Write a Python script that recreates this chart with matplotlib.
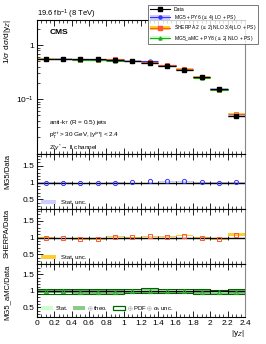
import numpy as np
import matplotlib.pyplot as plt
from matplotlib.patches import Patch, Rectangle
from matplotlib.lines import Line2D
from matplotlib.ticker import MultipleLocator, LogLocator, NullFormatter

# binning in |y_Z|
edges = np.round(np.arange(0, 2.41, 0.2), 2)
centers = 0.5 * (edges[:-1] + edges[1:])
halfw = 0.5 * np.diff(edges)

# normalised cross section (data)
data = [0.567, 0.565, 0.552, 0.548, 0.535, 0.506, 0.478, 0.414, 0.344, 0.259, 0.155, 0.049]
data_err = [0.006, 0.006, 0.006, 0.006, 0.006, 0.005, 0.005, 0.005, 0.004, 0.004, 0.003, 0.002]

# MC / data ratios
r_mg5 = [1.00, 1.00, 0.99, 0.99, 1.00, 1.02, 1.05, 1.04, 1.04, 1.01, 1.00, 1.01]
r_mg5_stat = [0.01] * 12
r_sherpa = [1.00, 0.98, 0.96, 0.96, 1.03, 1.01, 1.04, 1.03, 1.06, 1.00, 0.96, 1.09]
r_sherpa_stat = [0.015, 0.015, 0.02, 0.02, 0.015, 0.015, 0.02, 0.02, 0.02, 0.02, 0.02, 0.04]
r_amc = [0.98, 0.98, 0.97, 0.97, 0.97, 0.99, 1.00, 0.99, 0.99, 0.97, 0.96, 0.97]
r_amc_stat = [0.02] * 12
r_amc_theo = [0.06] * 12
r_amc_pdf = [0.07] * 12

c_mg5, c_mg5_band = '#3333ff', '#ccccff'
c_sh, c_sh_band = '#ff5533', '#ffcc33'
c_amc, c_amc_stat, c_amc_theo, c_amc_pdf = '#22aa22', '#ccffcc', '#88cc88', '#006600'

plt.rcParams['font.family'] = 'Liberation Sans'
plt.rcParams['mathtext.fontset'] = 'custom'
plt.rcParams['mathtext.rm'] = 'Liberation Sans'
plt.rcParams['mathtext.it'] = 'Liberation Sans:italic'

fig = plt.figure(figsize=(2.66, 3.44), dpi=100)
L, W = 0.139, 0.782
ax = fig.add_axes([L, 0.552, W, 0.391])
ax1 = fig.add_axes([L, 0.3915, W, 0.1605], sharex=ax)
ax2 = fig.add_axes([L, 0.2317, W, 0.1598], sharex=ax)
ax3 = fig.add_axes([L, 0.0776, W, 0.1541], sharex=ax)

data = np.array(data)
mc = [(data * np.array(r_mg5), c_mg5, 'o', c_mg5_band),
      (data * np.array(r_sherpa), c_sh, 's', c_sh_band),
      (data * np.array(r_amc), c_amc, '^', c_amc_stat)]
for vals, col, mk, band in mc:
    ax.bar(centers, 0.04 * vals, bottom=vals - 0.02 * vals, width=2 * halfw,
           color=band, lw=0)
    ax.errorbar(centers, vals, xerr=halfw, fmt=mk, color=col, ms=2.5, lw=0.8,
                mfc='none', mew=0.6, capsize=0)
ax.errorbar(centers, data, yerr=data_err, xerr=halfw, fmt='s', color='black',
            ms=2.5, lw=0.9, capsize=0)
ax.set_yscale('log')
ax.set_ylim(0.0095, 3.0)
ax.set_xlim(0, 2.4)
ax.yaxis.set_minor_locator(LogLocator(base=10, subs=np.arange(2, 10), numticks=10))
ax.yaxis.set_minor_formatter(NullFormatter())
ax.set_yticks([0.1, 1])
ax.set_yticklabels(['$10^{-1}$', '1'])
ax.tick_params(labelbottom=False)
ax.set_ylabel(r'1/$\sigma$ d$\sigma$/d|y$_Z$|', fontsize=6, loc='top')
ax.yaxis.set_label_coords(-0.115, 1.0)

fig.text(L, 0.953, r'19.6 fb$^{-1}$ (8 TeV)', fontsize=5.5)
ax.text(0.06, 0.93, 'CMS', transform=ax.transAxes, fontsize=6, fontweight='bold', va='top')
ax.text(0.06, 0.235, r'anti-k$_T$ (R = 0.5) jets', transform=ax.transAxes, fontsize=4.6, va='center')
ax.text(0.06, 0.14, r'p$_T^{jet}$ > 30 GeV, |y$^{jet}$| < 2.4', transform=ax.transAxes, fontsize=4.6, va='center')
ax.text(0.06, 0.045, r'Z/$\gamma^{*}\!\rightarrow$ ll channel', transform=ax.transAxes, fontsize=4.6, va='center')

h_data = Line2D([], [], color='black', marker='s', ms=2.2, lw=0.8)
h_mg5 = (Patch(color=c_mg5_band, lw=0), Line2D([], [], color=c_mg5, marker='o', ms=2.2, lw=0.8))
h_sh = (Patch(color=c_sh_band, lw=0), Line2D([], [], color=c_sh, marker='s', ms=2.2, lw=0.8))
h_amc = (Patch(color=c_amc_stat, lw=0), Line2D([], [], color=c_amc, marker='^', ms=2.2, lw=0.8))
leg = fig.legend([h_data, h_mg5, h_sh, h_amc],
                 ['Data', r'MG5 + PY6 ($\leq$ 4j LO + PS)',
                  r'SHERPA 2 ($\leq$ 2j NLO 3,4j LO + PS)',
                  r'MG5_aMC + PY8 ($\leq$ 2j NLO + PS)'],
                 loc='upper right', bbox_to_anchor=(0.97, 0.985), fontsize=3.6,
                 frameon=True, fancybox=False, edgecolor='#555555', borderpad=0.35,
                 labelspacing=0.25, handlelength=4.0, handleheight=0.9,
                 handletextpad=0.8, borderaxespad=0)
leg.get_frame().set_linewidth(0.7)

ratios = [(ax1, r_mg5, r_mg5_stat, c_mg5, c_mg5_band, 'o', 'MG5/Data'),
          (ax2, r_sherpa, r_sherpa_stat, c_sh, c_sh_band, 's', 'SHERPA/Data'),
          (ax3, r_amc, r_amc_stat, c_amc, c_amc_stat, '^', 'MG5_aMC/Data')]
for a, r, st, col, band, mk, lab in ratios:
    r = np.array(r)
    st = np.array(st)
    if a is ax3:
        for i in range(len(centers)):
            a.add_patch(Rectangle((edges[i], r[i] - r_amc_theo[i]), 2 * halfw[i],
                                  2 * r_amc_theo[i], color=c_amc_theo, lw=0))
            a.add_patch(Rectangle((edges[i], r[i] - r_amc_pdf[i]), 2 * halfw[i],
                                  2 * r_amc_pdf[i], fill=False, ec=c_amc_pdf, lw=0.8))
    a.bar(centers, 2 * st, bottom=r - st, width=2 * halfw, color=band, lw=0)
    a.axhline(1, color='black', lw=1.0)
    a.plot(edges[1:-1], np.ones(len(edges) - 2), '|', color='black', ms=3, mew=0.6)
    a.plot(centers, r, mk, color=col, ms=3, mfc='none', mew=0.7)
    a.set_ylim(0.2, 1.85)
    a.set_yticks([0.5, 1, 1.5])
    a.set_yticklabels(['0.5', '1', '1.5'])
    a.yaxis.set_minor_locator(MultipleLocator(0.1))
    a.set_ylabel(lab, fontsize=5.5, loc='top')
    a.yaxis.set_label_coords(-0.125, 1.0)
    if a is not ax3:
        a.tick_params(labelbottom=False)
ax3.set_ylim(0.2, 1.8)

ax1.legend([Patch(color=c_mg5_band, lw=0)], ['Stat. unc.'], loc='lower left',
           fontsize=4.3, frameon=False, handlelength=2.5, borderaxespad=0.3)
ax2.legend([Patch(color=c_sh_band, lw=0)], ['Stat. unc.'], loc='lower left',
           fontsize=4.3, frameon=False, handlelength=2.5, borderaxespad=0.3)
ax3.legend([Patch(color=c_amc_stat, lw=0), Patch(color=c_amc_theo, lw=0),
            Patch(fill=False, ec=c_amc_pdf, lw=0.9)],
           ['Stat.', r'$\oplus$ theo.', r'$\oplus$ PDF $\oplus$ $\alpha_s$ unc.'],
           loc='lower left', ncol=3, fontsize=4.3, frameon=False, handlelength=2.0,
           handletextpad=0.4, columnspacing=0.8, borderaxespad=0.3)

ax3.xaxis.set_minor_locator(MultipleLocator(0.05))
ax3.set_xticks(edges)
ax3.set_xticklabels([f'{e:g}' for e in edges])
ax3.set_xlabel('|y$_Z$|', fontsize=6, loc='right', labelpad=1)

for a in (ax, ax1, ax2, ax3):
    a.tick_params(which='both', direction='in', top=True, labelsize=6, pad=2)
    a.tick_params(which='major', length=4, width=0.6)
    a.tick_params(which='minor', length=2, width=0.5)
    for s in a.spines.values():
        s.set_linewidth(0.8)
    a.spines['right'].set_color('#888888')

fig.savefig('out.png', dpi=100)
